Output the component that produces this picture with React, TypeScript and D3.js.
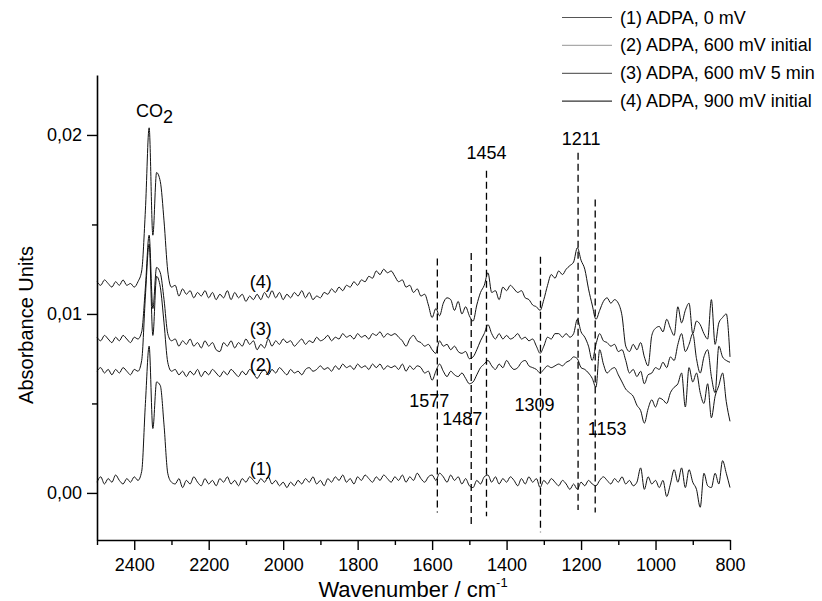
import { useEffect, useRef } from "react";
import * as d3 from "d3";

// sampling grid, cm-1
const wavenumbers = [
  2500, 2490, 2480, 2470, 2460, 2450, 2440, 2430, 2420, 2410,
  2400, 2390, 2380, 2370, 2360, 2350, 2340, 2330, 2320, 2310,
  2300, 2290, 2280, 2270, 2260, 2250, 2240, 2230, 2220, 2210,
  2200, 2190, 2180, 2170, 2160, 2150, 2140, 2130, 2120, 2110,
  2100, 2090, 2080, 2070, 2060, 2050, 2040, 2030, 2020, 2010,
  2000, 1990, 1980, 1970, 1960, 1950, 1940, 1930, 1920, 1910,
  1900, 1890, 1880, 1870, 1860, 1850, 1840, 1830, 1820, 1810,
  1800, 1790, 1780, 1770, 1760, 1750, 1740, 1730, 1720, 1710,
  1700, 1690, 1680, 1670, 1660, 1650, 1640, 1630, 1620, 1610,
  1600, 1590, 1580, 1570, 1560, 1550, 1540, 1530, 1520, 1510,
  1500, 1490, 1480, 1470, 1460, 1450, 1440, 1430, 1420, 1410,
  1400, 1390, 1380, 1370, 1360, 1350, 1340, 1330, 1320, 1310,
  1300, 1290, 1280, 1270, 1260, 1250, 1240, 1230, 1220, 1210,
  1200, 1190, 1180, 1170, 1160, 1150, 1140, 1130, 1120, 1110,
  1100, 1090, 1080, 1070, 1060, 1050, 1040, 1030, 1020, 1010,
  1000, 990, 980, 970, 960, 950, 940, 930, 920, 910,
  900, 890, 880, 870, 860, 850, 840, 830, 820, 810,
  800,
];

// absorbance, in units of 1e-3
const adpa0mV = [
  0.6, 0.9, 0.5, 0.8, 0.6, 1.0, 0.7, 0.5, 0.8, 0.6,
  0.9, 0.7, 1.2, 5.0, 8.2, 3.6, 6.2, 6.0, 3.8, 1.1,
  0.6, 0.5, 0.8, 0.3, 0.7, 0.5, 0.9, 0.6, 0.4, 0.8,
  0.5, 0.7, 0.4, 0.8, 0.6, 0.9, 0.5, 0.7, 0.4, 0.8,
  0.6, 0.9, 0.7, 0.5, 0.8, 0.6, 0.9, 0.5, 0.7, 0.4,
  0.6, 0.3, 0.6, 0.4, 0.7, 0.5, 0.8, 0.6, 0.9, 0.5,
  0.7, 0.4, 0.8, 0.6, 0.9, 0.7, 1.0, 0.6, 0.8, 0.5,
  0.9, 0.7, 1.0, 0.8, 0.6, 0.9, 0.7, 1.0, 0.8, 0.6,
  0.9, 0.7, 1.0, 0.6, 0.9, 0.7, 1.1, 0.8, 0.6, 0.9,
  1.0, 0.7, 1.1, 0.9, 0.6, 1.0, 0.7, 0.9, 0.5, 0.8,
  0.4, 0.3, 0.7, 0.5, 0.9, 1.0, 0.6, 0.9, 0.5, 0.8,
  0.6, 0.9, 0.7, 0.4, 0.8, 0.5, 0.9, 0.6, 0.8, 0.3,
  0.7, 0.5, 0.8, 0.6, 0.4, 0.7, 0.5, 0.2, 0.5, 0.2,
  0.6, 0.4, 0.7, 0.5, 0.4, 0.7, 0.9, 0.7, 0.5, 0.8,
  0.6, 0.9, 0.5, 0.7, 0.4, 0.6, 1.4, 0.2, 0.9, 0.5,
  0.7, 0.3, 0.7, -0.2, 0.5, 1.3, 0.6, 1.4, 0.3, 1.3,
  0.6, 0.2, -0.8, 1.1, 0.4, 0.3, 1.1, 0.5, 1.8, 1.1,
  0.3,
];

const adpa600mVInitial = [
  6.8, 7.0, 6.7, 6.9, 6.6, 6.9, 6.7, 7.0, 6.8, 6.6,
  6.9, 6.8, 7.4, 11.0, 13.9, 8.8, 12.1, 11.5, 9.5, 7.3,
  6.8, 6.9, 6.6, 6.8, 6.5, 6.8, 6.6, 6.9, 6.5, 6.8,
  6.6, 6.9, 6.7, 6.5, 6.8, 6.6, 6.9, 6.7, 6.5, 6.8,
  6.6, 6.9, 6.7, 6.4, 6.7, 6.9, 6.6, 6.9, 6.7, 7.0,
  6.8, 6.6, 6.9, 6.7, 6.8, 6.6, 6.9, 7.0, 6.8, 6.9,
  7.1, 6.9, 7.0, 6.8, 7.1, 6.9, 7.2, 7.0, 7.1, 6.9,
  7.2, 7.0, 7.1, 6.9, 7.2, 7.0, 7.2, 6.9, 7.1, 7.0,
  7.1, 6.9, 7.2, 6.8, 7.1, 6.9, 7.1, 7.0, 6.7, 6.8,
  6.3, 6.8, 7.2, 6.8, 6.5, 6.8, 6.6, 6.5, 6.7, 6.4,
  6.1, 6.2, 6.6, 7.0, 7.2, 7.4, 7.1, 6.9, 7.2, 7.0,
  7.4, 7.1, 6.9, 7.0, 7.3, 7.4, 7.1, 7.0, 6.9, 6.7,
  6.9, 7.1, 7.0, 7.1, 7.2, 7.1, 7.3, 7.4, 7.6, 7.5,
  7.0, 6.9, 6.7, 6.4, 5.9, 8.0, 7.2, 6.7, 6.9, 7.0,
  6.6, 6.2, 5.8, 5.6, 5.4, 4.9, 4.6, 3.9, 4.7, 5.2,
  4.8, 5.3, 5.2, 5.0, 5.6, 5.9, 6.1, 6.7, 4.8, 7.0,
  6.2, 6.7, 5.6, 5.0, 6.1, 4.2, 5.4, 6.0, 6.7, 5.1,
  4.0,
];

const adpa600mV5min = [
  8.7, 8.5, 8.8, 8.6, 8.4, 8.7, 8.5, 8.8, 8.6, 8.4,
  8.7, 8.6, 9.0, 11.5, 14.4, 10.3, 12.6, 12.3, 10.8, 8.9,
  8.5, 8.6, 8.2, 8.5, 8.3, 8.6, 8.2, 8.4, 8.1, 8.5,
  8.2, 8.4, 8.0, 7.9, 8.4, 8.2, 8.5, 8.1, 8.4, 8.2,
  8.6, 8.3, 8.5, 8.0, 8.3, 8.1, 8.6, 8.2, 8.5, 8.3,
  8.6, 8.4, 8.5, 8.2, 8.4, 8.6, 8.3, 8.5, 8.4, 8.7,
  8.5, 8.6, 8.8, 8.5, 8.7, 8.6, 8.9, 8.7, 8.8, 8.6,
  8.9, 8.7, 8.8, 8.6, 8.9, 8.8, 9.0, 8.7, 8.9, 8.8,
  8.9, 8.7, 8.5, 8.2, 8.6, 8.8, 8.5, 8.4, 8.2, 8.3,
  8.0, 7.8, 8.5, 8.2, 8.3, 8.0, 8.2, 7.9, 7.8, 7.9,
  7.5, 7.6, 8.0, 8.5, 8.9, 9.4, 8.9, 8.6, 8.9, 8.6,
  8.8, 8.6, 8.7, 8.9, 8.6, 8.7, 8.5, 8.6, 8.2, 7.8,
  8.2, 8.7, 8.6, 8.9, 8.9, 8.7, 8.9, 8.7, 8.9, 9.7,
  9.0, 8.7, 8.2, 7.4, 8.3, 8.9, 8.5, 8.4, 8.2, 8.3,
  7.9, 8.0, 7.4, 6.7, 6.9, 6.5, 6.8, 6.1, 6.6, 6.7,
  7.0, 6.9, 7.3, 7.0, 7.6, 7.4, 8.3, 8.9, 7.9, 8.3,
  8.9, 7.5, 6.7, 7.6, 8.0, 6.5, 5.6, 8.2, 7.6, 7.4,
  7.3,
];

const adpa900mVInitial = [
  11.8, 11.6, 11.9, 11.7, 11.5, 11.8, 11.6, 11.9, 11.6, 11.7,
  11.5, 11.8, 12.4, 15.8, 20.4, 14.4, 17.9, 17.4, 15.2, 12.4,
  11.5, 11.6, 11.0, 11.4, 11.1, 11.3, 10.9, 11.2, 11.0, 11.3,
  10.9, 11.2, 10.8, 11.1, 10.9, 11.3, 10.8, 11.2, 10.9, 11.1,
  10.7, 11.0, 10.8, 11.1, 10.8, 11.2, 10.9, 11.3, 10.9, 11.2,
  10.8, 11.1, 10.9, 11.2, 11.0, 11.3, 10.9, 11.2, 10.8, 11.0,
  10.9, 11.2, 11.1, 11.4, 11.2, 11.5, 11.3, 11.6, 11.5, 11.8,
  11.6, 11.9, 11.8, 12.1, 12.0, 12.4, 12.2, 12.5, 12.3, 12.4,
  12.1, 11.8, 11.9, 11.5, 11.6, 11.2, 11.4, 11.0, 11.1, 10.5,
  9.8, 10.3, 9.9, 10.6, 10.9, 10.8, 10.2, 10.7, 10.0, 10.4,
  9.9, 9.6, 10.5, 11.2, 11.6, 12.3, 11.2, 11.3, 10.8, 11.5,
  11.3, 11.6, 11.4, 11.2, 11.3, 10.9, 10.8, 10.5, 10.4, 10.2,
  10.8, 11.6, 12.2, 12.0, 12.4, 12.2, 12.5, 12.7, 12.9, 13.7,
  13.0, 12.5, 11.4, 10.5, 9.7, 10.2, 10.7, 10.9, 10.6, 10.8,
  10.6, 9.9, 8.2, 7.9, 8.3, 8.0, 8.4, 7.6, 7.1, 8.8,
  9.2, 9.3, 9.0, 9.7, 9.2, 8.8, 10.4, 9.5, 10.2, 10.6,
  8.9, 9.6, 9.4, 8.9, 8.6, 10.8, 8.3, 9.5, 9.8, 10.0,
  7.6,
];

const seriesNames = [
  "(1) ADPA, 0 mV",
  "(2) ADPA, 600 mV initial",
  "(3) ADPA, 600 mV 5 min",
  "(4) ADPA, 900 mV initial",
];
const seriesValues = [adpa0mV, adpa600mVInitial, adpa600mV5min, adpa900mVInitial];
const curveTags = ["(1)", "(2)", "(3)", "(4)"];
const curveTagLevels = [1.0, 6.8, 8.8, 11.45]; // 1e-3 AU, read at 2060 cm-1
const curveTagAt = 2060;

// dashed band markers: label, drawn position (cm-1), extent (1e-3 AU)
const bandLabels = ["1577", "1487", "1454", "1309", "1211", "1153"];
const bandAt = [1586, 1495, 1454, 1309, 1208, 1162];
const bandTop = [13.1, 13.4, 18.0, 13.2, 19.0, 16.4];
const bandBottom = [-1.1, -1.9, -1.3, -2.2, -0.95, -1.1];
const bandLabelLevel = [4.8, 3.8, 18.66, 4.58, 19.44, 3.24];

const xMajor = [2400, 2200, 2000, 1800, 1600, 1400, 1200, 1000, 800];
const xMinor = [2500, 2300, 2100, 1900, 1700, 1500, 1300, 1100, 900];
const yMajor = [0, 0.01, 0.02];
const yMinor = [0.005, 0.015];

const FONT = "'Liberation Sans', Arial, sans-serif";
const W = 822;
const H = 601;

const App = () => {
  const svgRef = useRef<SVGSVGElement>(null);

  useEffect(() => {
    const svg = d3.select(svgRef.current);
    svg.selectAll("*").remove();

    const x = d3.scaleLinear().domain([2500, 800]).range([97, 730]);
    const y = d3.scaleLinear().domain([-0.00263, 0.02335]).range([540, 75]);
    const au = (v: number) => v / 1000;

    // curves
    const line = d3
      .line<number>()
      .x((_, i) => x(wavenumbers[i]))
      .y((d) => y(au(d)))
      .curve(d3.curveMonotoneX);

    svg
      .append("g")
      .selectAll("path")
      .data(seriesValues)
      .join("path")
      .attr("d", (d) => line(d))
      .attr("fill", "none")
      .attr("stroke", "#111")
      .attr("stroke-width", 1)
      .attr("stroke-linejoin", "round");

    // dashed band markers
    const bands = svg.append("g");
    bandLabels.forEach((lab, i) => {
      bands
        .append("line")
        .attr("x1", x(bandAt[i]))
        .attr("x2", x(bandAt[i]))
        .attr("y1", y(au(bandTop[i])))
        .attr("y2", y(au(bandBottom[i])))
        .attr("stroke", "#000")
        .attr("stroke-width", 1.3)
        .attr("stroke-dasharray", "7,4");
    });
    const bandDx = [-8, -9, 0, -6, 3, 12];
    bands
      .selectAll("text")
      .data(bandLabels)
      .join("text")
      .attr("x", (_, i) => x(bandAt[i]) + bandDx[i])
      .attr("y", (_, i) => y(au(bandLabelLevel[i])))
      .attr("text-anchor", "middle")
      .attr("font-family", FONT)
      .attr("font-size", 18)
      .text((d) => d);

    // curve tags
    svg
      .append("g")
      .selectAll("text")
      .data(curveTags)
      .join("text")
      .attr("x", x(curveTagAt))
      .attr("y", (_, i) => y(au(curveTagLevels[i])))
      .attr("text-anchor", "middle")
      .attr("font-family", FONT)
      .attr("font-size", 18)
      .text((d) => d);

    // CO2 label
    const co2 = svg
      .append("text")
      .attr("x", x(2395))
      .attr("y", y(au(21.0)))
      .attr("font-family", FONT)
      .attr("font-size", 18);
    co2.append("tspan").text("CO");
    co2.append("tspan").attr("dy", 6).attr("font-size", 18).text("2");

    // axes
    const xAxis = d3
      .axisBottom(x)
      .tickValues(xMajor)
      .tickSize(10)
      .tickSizeOuter(0)
      .tickPadding(8)
      .tickFormat((d) => String(d));
    const gx = svg.append("g").attr("transform", "translate(0,540)").call(xAxis);
    const gxm = svg
      .append("g")
      .attr("transform", "translate(0,540)")
      .call(d3.axisBottom(x).tickValues(xMinor).tickSize(5).tickSizeOuter(0).tickFormat(() => ""));
    gxm.select(".domain").remove();

    const comma = (d: number) => d3.format(".2f")(d).replace(".", ",");
    const yAxis = d3
      .axisLeft(y)
      .tickValues(yMajor)
      .tickSize(10)
      .tickSizeOuter(0)
      .tickPadding(5)
      .tickFormat((d) => comma(+d));
    const gy = svg.append("g").attr("transform", "translate(97,0)").call(yAxis);
    const gym = svg
      .append("g")
      .attr("transform", "translate(97,0)")
      .call(d3.axisLeft(y).tickValues(yMinor).tickSize(5).tickSizeOuter(0).tickFormat(() => ""));
    gym.select(".domain").remove();

    [gx, gy, gxm, gym].forEach((g) => {
      g.select(".domain").attr("stroke-width", 1.6);
      g.selectAll(".tick line").attr("stroke-width", 1.4);
      g.selectAll("text").attr("font-family", FONT).attr("font-size", 18).attr("fill", "#000");
    });

    // axis titles
    const xt = svg
      .append("text")
      .attr("x", 413)
      .attr("y", 597)
      .attr("text-anchor", "middle")
      .attr("font-family", FONT)
      .attr("font-size", 22);
    xt.append("tspan").text("Wavenumber / cm");
    xt.append("tspan").attr("dy", -10).attr("font-size", 13).text("-1");

    svg
      .append("text")
      .attr("transform", "translate(33,325) rotate(-90)")
      .attr("text-anchor", "middle")
      .attr("font-family", FONT)
      .attr("font-size", 20)
      .text("Absorbance Units");

    // legend
    const legendColors = ["#555", "#aaa", "#666", "#333"];
    const lg = svg.append("g");
    seriesNames.forEach((name, i) => {
      const ry = 17.5 + i * 27.9;
      lg.append("line")
        .attr("x1", 562)
        .attr("x2", 612)
        .attr("y1", ry)
        .attr("y2", ry)
        .attr("stroke", legendColors[i])
        .attr("stroke-width", 1.2);
      lg.append("text")
        .attr("x", 620)
        .attr("y", ry + 6)
        .attr("font-family", FONT)
        .attr("font-size", 18)
        .text(name);
    });
  }, []);

  return (
    <svg
      ref={svgRef}
      width={W}
      height={H}
      style={{ position: "absolute", left: 0, top: 0, background: "#fff" }}
    />
  );
};

export default App;
